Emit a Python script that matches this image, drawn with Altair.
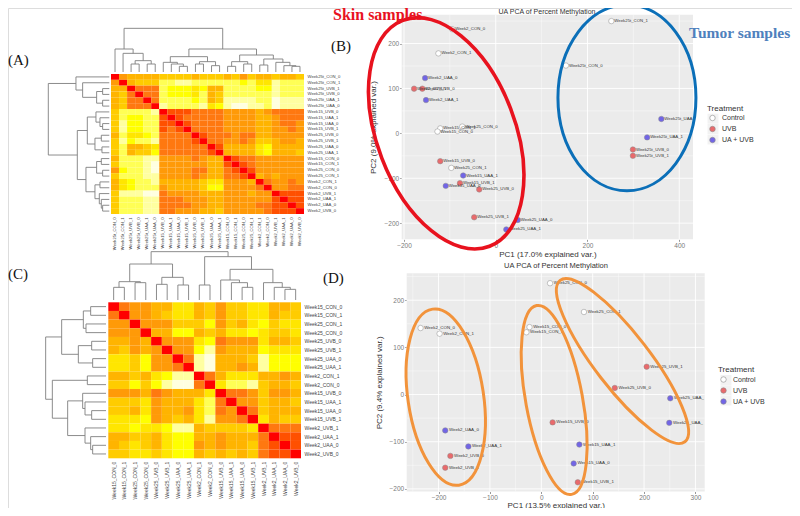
import altair as alt
import pandas as pd

VIEW_W, VIEW_H = 784, 500
M = 8  # page margin

# ---------- Heat map A ----------
a_labels = ["Week25t_CON_0","Week25t_CON_1","Week25t_UVB_1","Week25t_UVB_0","Week25t_UAA_1","Week25t_UAA_0",
            "Week15_UVB_0","Week15_UAA_1","Week15_UAA_0","Week15_UVB_1","Week25_UVB_0","Week25_UVB_1",
            "Week25_UAA_0","Week25_UAA_1","Week15_CON_0","Week15_CON_1","Week25_CON_0","Week25_CON_1",
            "Week2_CON_1","Week2_CON_0","Week2_UVB_1","Week2_UAA_1","Week2_UAA_0","Week2_UVB_0"]
a_matrix = [
 [0,3,4,4,4,4, 5,5,5,5,4,5,5,5, 4,5,3,5, 4,4,5,4,4,5],
 [3,0,4,5,5,5, 8,8,9,9,8,8,8,8, 8,8,7,8, 6,6,9,8,8,8],
 [4,4,0,2,2,2, 8,7,7,7,6,7,4,4, 8,8,8,8, 7,7,9,8,8,8],
 [4,5,2,0,2,2, 8,7,7,7,6,8,4,5, 8,8,8,8, 8,8,9,8,8,8],
 [4,5,2,2,0,2, 8,8,8,8,7,8,4,5, 9,9,9,9, 8,8,10,9,9,9],
 [4,5,2,2,2,0, 9,8,8,8,8,9,6,7, 9,10,10,9, 9,8,10,9,9,9],
 [5,8,8,8,8,9, 0,1,1,1,2,2,2,2, 3,3,3,3, 4,3,2,2,2,2],
 [5,8,7,7,8,8, 1,0,1,2,2,2,2,2, 3,3,3,3, 4,4,3,2,2,2],
 [5,9,7,7,8,8, 1,1,0,1,2,2,2,2, 3,3,3,3, 4,4,3,2,2,3],
 [5,9,7,7,8,8, 1,2,1,0,2,2,2,2, 3,3,3,3, 4,4,3,3,2,3],
 [4,8,6,6,7,8, 2,2,2,2,0,1,2,2, 2,3,2,2, 4,4,3,3,3,3],
 [5,9,7,8,8,9, 2,2,2,2,1,0,2,2, 3,3,2,3, 5,5,4,3,3,4],
 [5,8,4,4,5,6, 2,2,2,2,2,2,0,1, 4,4,4,4, 6,7,4,4,4,4],
 [5,8,4,5,5,7, 2,2,2,2,2,2,1,0, 4,4,4,4, 6,7,4,4,4,5],
 [4,8,8,8,9,9, 3,3,3,3,2,3,4,4, 0,1,2,2, 3,3,3,3,3,3],
 [5,8,8,8,9,10, 3,3,3,3,3,3,4,4, 1,0,1,2, 3,3,3,3,3,3],
 [3,7,8,8,9,10, 3,3,3,3,2,2,4,4, 2,1,0,1, 3,3,3,3,3,3],
 [5,8,8,8,9,9, 3,3,3,3,2,3,4,4, 2,2,1,0, 4,3,4,3,3,3],
 [4,6,7,8,8,9, 4,4,4,4,4,5,6,6, 3,3,3,4, 0,2,3,3,2,3],
 [4,6,7,8,8,8, 3,4,4,4,4,5,7,7, 3,3,3,3, 2,0,3,3,2,2],
 [5,9,9,9,10,10, 2,3,3,3,3,4,4,4, 3,3,3,4, 3,3,0,1,1,1],
 [5,8,8,8,9,9, 2,2,2,3,3,3,4,4, 3,3,3,3, 3,3,1,0,1,1],
 [5,8,8,8,9,9, 2,2,2,2,3,3,4,4, 3,3,3,3, 2,2,1,1,0,1],
 [5,8,8,8,9,9, 2,2,3,3,3,4,4,5, 3,3,3,3, 3,2,1,1,1,0],
]

# ---------- Heat map C ----------
c_labels = ["Week15_CON_0","Week15_CON_1","Week25_CON_1","Week25_CON_0","Week25_UVB_0","Week25_UVB_1",
            "Week25_UAA_0","Week25_UAA_1","Week2_CON_1","Week2_CON_0","Week15_UVB_0","Week15_UAA_1",
            "Week15_UAA_0","Week15_UVB_1","Week2_UVB_1","Week2_UAA_1","Week2_UAA_0","Week2_UVB_0"]
c_matrix = [
 [0,2,3,3,4,4,6,6,4,5,3,5,5,6,6,4,4,5],
 [2,0,3,3,4,5,6,6,4,5,3,5,5,6,6,4,5,5],
 [3,3,0,3,3,3,5,5,5,7,3,5,4,6,7,5,6,6],
 [3,3,3,0,4,4,7,7,4,5,4,6,6,7,6,5,5,6],
 [4,4,3,4,0,3,3,3,6,7,2,3,3,3,6,4,4,5],
 [4,5,3,4,3,0,3,3,7,9,3,4,4,4,7,6,6,6],
 [6,6,5,7,3,3,0,2,9,10,4,4,4,5,9,7,7,7],
 [6,6,5,7,3,3,2,0,9,10,4,4,3,4,9,7,7,7],
 [4,4,5,4,6,7,9,9,0,2,4,6,6,6,4,4,3,4],
 [5,5,7,5,7,9,10,10,2,0,6,8,8,9,5,4,4,5],
 [3,3,3,4,2,3,4,4,4,6,0,2,2,3,5,3,3,4],
 [5,5,5,6,3,4,4,4,6,8,2,0,3,3,5,4,4,5],
 [5,5,4,6,3,4,4,3,6,8,2,3,0,2,5,4,4,4],
 [6,6,6,7,3,4,5,4,6,9,3,3,2,0,6,4,5,5],
 [6,6,7,6,6,7,9,9,4,5,5,5,5,6,0,2,2,2],
 [4,4,5,5,4,6,7,7,4,4,3,4,4,4,2,0,1,1],
 [4,5,6,5,4,6,7,7,3,4,3,4,4,5,2,1,0,1],
 [5,5,6,6,5,6,7,7,4,5,4,5,4,5,2,1,1,0],
]
heat_levels = ["#ff0000","#ff5000","#ff7810","#ff9a08","#ffb400","#ffcc00","#ffe600","#ffff00","#ffff55","#ffffa0","#ffffe0"]

# ---------- Dendrograms: (height, left, right), leaf = column index ----------
a_top = (131,
  (69, 0, (56, 1, (34, (24, 2, 3), (24, 4, 5)))),
  (69,
    (46, (29, 6, (24, 7, (17, 8, 9))), (31, (24, 10, 11), (19, 12, 13))),
    (51, (31, (17, 14, 15), (24, 16, 17)),
         (39, (21, 18, 19), (29, 20, (19, 21, (17, 22, 23)))))))
a_left = (183,
  (100, 0, (80, 1, (38, (20, 2, 3), (20, 4, 5)))),
  (96,
    (66, (40, 6, (28, 7, (20, 8, 9))), (43, (24, 10, 11), (22, 12, 13))),
    (70, (38, (24, 14, 15), (20, 16, 17)),
         (43, (28, 18, 19), (30, 20, (24, 21, (20, 22, 23)))))))
c_top = (145,
  (108, (55, (38, 0, 1), (52, 2, 3)), (68, (47, 4, 5), (45, 6, 7))),
  (130, (45, 8, 9),
        (92, (60, 10, (52, 11, (38, 12, 13))), (52, 14, (38, 15, (32, 16, 17))))))
c_left = (181,
  (133, (68, (46, 0, 1), (60, 2, 3)), (83, (43, 4, 5), (40, 6, 7))),
  (161, (56, 8, 9),
        (115, (70, 10, (63, 11, (43, 12, 13))), (63, 14, (46, 15, (40, 16, 17))))))

# ---------- PCA B ----------
b_names = ["Week2_CON_0","Week2_CON_1","Week2_UAA_0","Week2_UVB_1","Week2_UVB_0","Week2_UAA_1","Week15_CON_1",
           "Week15_CON_0","Week25_CON_0","Week15_UVB_0","Week25_CON_1","Week15_UAA_1","Week15_UVB_1","Week15_UAA_0",
           "Week25_UVB_0","Week25_UVB_1","Week25_UAA_0","Week25_UAA_1","Week25t_CON_1","Week25t_CON_0",
           "Week25t_UAA_0","Week25t_UAA_1","Week25t_UVB_0","Week25t_UVB_1"]
b_pc1 = [-95,-125,-154,-178,-160,-152,-121,-127,-73,-121,-97,-71,-78,-109,-36,-47,48,23,252,153,361,330,299,299]
b_pc2 = [232,178,123,99.5,99.5,74,11,4,15,-62,-77,-94,-111,-117,-125,-187,-193,-214,250,151,32,-9,-36,-50]
b_shown = {"Week25t_UAA_0": "Week25t_UAA"}

# ---------- PCA D ----------
d_names = ["Week25_CON_0","Week25_CON_1","Week2_CON_0","Week2_CON_1","Week15_CON_0","Week15_CON_1","Week25_UVB_1",
           "Week25_UVB_0","Week25_UAA_0","Week25_UAA_1","Week15_UVB_0","Week15_UAA_1","Week15_UAA_0","Week15_UVB_1",
           "Week2_UAA_0","Week2_UAA_1","Week2_UVB_0","Week2_UVB_1"]
d_pc1 = [17,83,-235,-198,-23,-29,205,143,251,249,22,74,63,71,-187,-142,-177,-187]
d_pc2 = [236,175,141,129,143,132,59,14,-8,-60,-59,-106,-146,-186,-76,-110,-130,-155]
d_shown = {"Week25_UAA_0": "Week25_UAA_", "Week25_UAA_1": "Week25_UAA_"}

treatments = ["Control", "UVB", "UA + UVB"]
treatment_colors = ["#ffffff", "#e96a6c", "#7265e6"]


def vx(px):
    return px - M


def vy(py):
    return py - M


def group_of(name):
    if "CON" in name:
        return "Control"
    return "UVB" if "UVB" in name else "UA + UVB"


def heat(labels, matrix, box, font, label_gap):
    left, right, top, bottom = box
    rows = [{"c": labels[j], "r": labels[i], "v": matrix[i][j]}
            for i in range(len(labels)) for j in range(len(labels))]
    return alt.Chart(pd.DataFrame(rows)).mark_rect(strokeWidth=0).encode(
        x=alt.X("c:N", sort=labels,
                scale=alt.Scale(domain=labels, range=[vx(left), vx(right)], padding=0),
                axis=alt.Axis(orient="bottom", offset=vy(bottom) - VIEW_H, title=None, ticks=False, domain=False,
                              labelAngle=270, labelFontSize=font, labelColor="#444", labelPadding=label_gap,
                              labelOverlap=False, labelLimit=100, labelFont="Liberation Sans")),
        y=alt.Y("r:N", sort=labels,
                scale=alt.Scale(domain=labels, range=[vy(top), vy(bottom)], padding=0),
                axis=alt.Axis(orient="right", offset=vx(right) - VIEW_W, title=None, ticks=False, domain=False,
                              labelFontSize=font, labelColor="#444", labelPadding=label_gap,
                              labelOverlap=False, labelLimit=100, labelFont="Liberation Sans")),
        color=alt.Color("v:O", legend=None,
                        scale=alt.Scale(domain=list(range(11)), range=heat_levels)),
    )


def segments(tree):
    segs = []

    def walk(node):
        if isinstance(node, int):
            return float(node), 0.0
        h, l, r = node
        pl, hl = walk(l)
        pr, hr = walk(r)
        segs.append(dict(p1=pl, p2=pl, h1=hl, h2=h))
        segs.append(dict(p1=pr, p2=pr, h1=hr, h2=h))
        segs.append(dict(p1=pl, p2=pr, h1=h, h2=h))
        return (pl + pr) / 2, h

    walk(tree)
    return pd.DataFrame(segs)


def dendro_top(tree, n, left, right, base, unit=1 / 3):
    hs = alt.Scale(domain=[0, tree[0]], range=[vy(base), vy(base - tree[0] * unit)])
    ps = alt.Scale(domain=[-0.5, n - 0.5], range=[vx(left), vx(right)], nice=False, zero=False)
    return alt.Chart(segments(tree)).mark_rule(color="#7f7f7f", strokeWidth=0.9).encode(
        x=alt.X("p1:Q", scale=ps, axis=None), x2="p2:Q",
        y=alt.Y("h1:Q", scale=hs, axis=None), y2="h2:Q")


def dendro_left(tree, n, top, bottom, base, unit=1 / 3):
    hs = alt.Scale(domain=[0, tree[0]], range=[vx(base), vx(base - tree[0] * unit)])
    ps = alt.Scale(domain=[-0.5, n - 0.5], range=[vy(top), vy(bottom)], nice=False, zero=False)
    return alt.Chart(segments(tree)).mark_rule(color="#7f7f7f", strokeWidth=0.9).encode(
        x=alt.X("h1:Q", scale=hs, axis=None), x2="h2:Q",
        y=alt.Y("p1:Q", scale=ps, axis=None), y2="p2:Q")


def ellipse_path(r):
    k = 0.5523
    return (f"M-1 0C-1 {-k*r} {-k} {-r} 0 {-r}C{k} {-r} 1 {-k*r} 1 0"
            f"C1 {k*r} {k} {r} 0 {r}C{-k} {r} -1 {k*r} -1 0Z")


def pca(names, pc1, pc2, shown, xdom, ydom, box, xticks, yticks, xminor, yminor, xtitle, ytitle,
        ellipses, legend_xy, pt_size, txt_size, txt_dx, ypad, xpad):
    left, right, top, bottom = box
    xs = alt.Scale(domain=xdom, range=[vx(left), vx(right)], nice=False, zero=False)
    ys = alt.Scale(domain=ydom, range=[vy(bottom), vy(top)], nice=False, zero=False)
    xaxis = alt.Axis(
        orient="bottom", offset=vy(bottom) - VIEW_H, values=xticks, grid=False, domain=False,
        labelFontSize=6.5, labelColor="#7a7a7a", tickColor="#999", tickSize=2, labelPadding=1,
        title=xtitle, titleFontSize=8, titleFontWeight="normal", titleColor="#333", titlePadding=xpad,
        labelFont="Liberation Sans", titleFont="Liberation Sans")
    yaxis = alt.Axis(
        orient="left", offset=-vx(left), values=yticks, grid=False, domain=False,
        labelFontSize=6.5, labelColor="#7a7a7a", tickColor="#999", tickSize=2, labelPadding=1,
        title=ytitle, titleFontSize=8, titleFontWeight="normal", titleColor="#333", titlePadding=ypad,
        labelFont="Liberation Sans", titleFont="Liberation Sans")
    X = lambda f: alt.X(f, scale=xs, axis=xaxis)
    Y = lambda f: alt.Y(f, scale=ys, axis=yaxis)

    bg = alt.Chart(pd.DataFrame({"x": [xdom[0]], "x1": [xdom[1]], "y": [ydom[0]], "y1": [ydom[1]]})).mark_rect(
        color="#ebebeb").encode(x=X("x:Q"), x2="x1:Q", y=Y("y:Q"), y2="y1:Q")

    def vrules(vals, w):
        d = pd.DataFrame({"x": vals})
        d["y"], d["y1"] = ydom[0], ydom[1]
        return alt.Chart(d).mark_rule(color="#ffffff", strokeWidth=w).encode(
            x=X("x:Q"), y=Y("y:Q"), y2="y1:Q")

    def hrules(vals, w):
        d = pd.DataFrame({"y": vals})
        d["x"], d["x1"] = xdom[0], xdom[1]
        return alt.Chart(d).mark_rule(color="#ffffff", strokeWidth=w).encode(
            y=Y("y:Q"), x=X("x:Q"), x2="x1:Q")

    df = pd.DataFrame({"x": pc1, "y": pc2, "name": names})
    df["shown"] = df["name"].map(lambda s: shown.get(s, s))
    df["Treatment"] = df["name"].map(group_of)

    pts = alt.Chart(df).mark_point(filled=True, size=pt_size, opacity=1, stroke="#8a8a8a", strokeWidth=0.5).encode(
        x=X("x:Q"), y=Y("y:Q"),
        color=alt.Color("Treatment:N",
                        scale=alt.Scale(domain=treatments, range=treatment_colors),
                        legend=alt.Legend(orient="none", legendX=vx(legend_xy[0]), legendY=vy(legend_xy[1]),
                                          title="Treatment", titleFontSize=8, titleFontWeight="normal",
                                          titleColor="#333", labelFontSize=7, labelColor="#333",
                                          symbolSize=pt_size, symbolStrokeColor="#8a8a8a", symbolStrokeWidth=0.6,
                                          symbolOpacity=1, symbolType="circle", rowPadding=2, symbolOffset=2,
                                          labelOffset=6,
                                          titlePadding=2, labelFont="Liberation Sans", titleFont="Liberation Sans")))
    txt = alt.Chart(df).mark_text(align="left", baseline="middle", dx=txt_dx, fontSize=txt_size,
                                  color="#333", font="Liberation Sans").encode(x=X("x:Q"), y=Y("y:Q"), text="shown:N")
    parts = [bg, vrules(xminor, 0.4), hrules(yminor, 0.4), vrules(xticks, 0.9), hrules(yticks, 0.9), pts, txt]
    for ex, ey, a, b, ang, col, sw in ellipses:
        parts.append(alt.Chart(pd.DataFrame({"x": [ex], "y": [ey]})).mark_point(
            shape=ellipse_path(b / a), size=(2 * a) ** 2, angle=ang, filled=False, color=col,
            strokeWidth=sw, opacity=1).encode(x=X("x:Q"), y=Y("y:Q")))
    return alt.layer(*parts)


def note(text, px, py, size, color, font="Liberation Sans", weight="normal", align="left"):
    return alt.Chart(pd.DataFrame({"t": [text]})).mark_text(
        align=align, baseline="middle", fontSize=size, color=color, font=font, fontWeight=weight).encode(
        x=alt.value(vx(px)), y=alt.value(vy(py)), text="t:N")


def key_box(px, py):
    return alt.Chart(pd.DataFrame({"t": [0]})).mark_rect(color="#f2f2f2").encode(
        x=alt.value(vx(px - 5.5)), x2=alt.value(vx(px + 5.5)),
        y=alt.value(vy(py - 5)), y2=alt.value(vy(py + 5)))


RED, BLUE, ORANGE = "#e8121e", "#0b6fb8", "#f2933b"

panel_b = pca(b_names, b_pc1, b_pc2, b_shown, [-205, 430], [-236, 264], (401.7, 693, 14.8, 239.3),
              [-200, 0, 200, 400], [-200, -100, 0, 100, 200], [-100, 100, 300], [-150, -50, 50, 150, 250],
              "PC1 (17.0% explained var.)", "PC2 (9.0% explained var.)",
              [(-108, 0, 121, 69, 69, RED, 3.6), (286, 79, 93, 69, 90, BLUE, 3)],
              (707, 104.5), 30, 4.3, 3, 7, 2)

panel_d = pca(d_names, d_pc1, d_pc2, d_shown, [-262, 318], [-205.5, 257], (406.7, 704.7, 273.3, 491.5),
              [-200, -100, 0, 100, 200, 300], [-200, -100, 0, 100, 200],
              [-250, -150, -50, 50, 150, 250], [-150, -50, 50, 150, 250],
              "PC1 (13.5% explained var.)", "PC2 (9.4% explained var.)",
              [(-186, -5.5, 89, 37.8, 81.5, ORANGE, 3), (25, -11.5, 96, 28.4, 79.5, ORANGE, 3),
               (158, 71, 102, 27.3, 52.3, ORANGE, 3)],
              (718, 366), 30, 4.4, 3.7, 6, 0)

layers = [
    heat(a_labels, a_matrix, (111, 304, 74, 214), 4.2, 3),
    dendro_top(a_top, 24, 111, 304, 72),
    dendro_left(a_left, 24, 74, 214, 109.3),
    heat(c_labels, c_matrix, (108.3, 301, 302.3, 458.3), 5, 3),
    dendro_top(c_top, 18, 108.3, 301, 300),
    dendro_left(c_left, 18, 302.3, 458.3, 106),
    panel_b,
    panel_d,
    key_box(713, 118.7), key_box(713, 129), key_box(713, 139.5),
    key_box(726, 380), key_box(726, 390.3), key_box(726, 400.5),
    note("(A)", 8, 60, 15, "#111", "Liberation Serif"),
    note("(B)", 331, 46, 15, "#111", "Liberation Serif"),
    note("(C)", 8, 274, 15, "#111", "Liberation Serif"),
    note("(D)", 323, 278, 15, "#111", "Liberation Serif"),
    note("Skin samples", 333, 15, 16, RED, "Liberation Serif", "bold"),
    note("Tumor samples", 689, 33, 15.5, "#4f81bd", "Liberation Serif", "bold"),
    note("UA PCA of Percent Methylation", 547, 11.5, 7, "#333", align="center"),
    note("UA PCA of Percent Methylation", 556, 266, 7.5, "#333", align="center"),
]

chart = alt.layer(*layers).resolve_scale(
    x="independent", y="independent", color="independent"
).resolve_axis(x="independent", y="independent").properties(
    width=VIEW_W, height=VIEW_H, padding=0,
    autosize=alt.AutoSizeParams(type="none"),
).configure_view(stroke=None).configure(background="white")

chart.save("out.html", embed_options={"renderer": "svg", "actions": False})
